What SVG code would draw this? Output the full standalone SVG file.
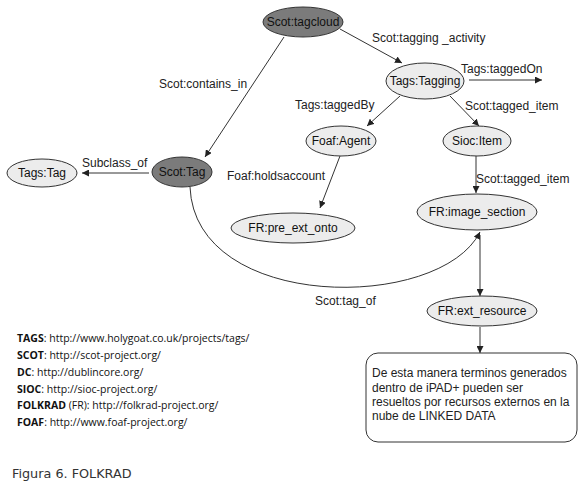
<svg xmlns="http://www.w3.org/2000/svg" width="579" height="487" viewBox="0 0 579 487">
<style>
  .lbl { font-family: "Liberation Sans", Arial, sans-serif; font-size: 12px; fill: #222; }
  .nt { font-family: "Liberation Sans", Arial, sans-serif; font-size: 12px; fill: #111; text-anchor: middle; }
  .dark { fill: #7b7b7b; stroke: #333; stroke-width: 1; }
  .light { fill: #ececec; stroke: #333; stroke-width: 1; }
  .edge { fill: none; stroke: #333; stroke-width: 1; }
  .leg { font-family: "Open Sans", "Liberation Sans", sans-serif; font-size: 10.5px; fill: #111; }
  .bold { font-weight: bold; }
</style>
<defs>
  <marker id="ah" viewBox="0 0 10 10" refX="10" refY="5" markerWidth="7" markerHeight="7" markerUnits="userSpaceOnUse" orient="auto">
    <path d="M0,0 L10,5 L0,10 z" fill="#222"/>
  </marker>
</defs>
<rect width="579" height="487" fill="#fff"/>

<g id="connectors">
  <line class="edge" x1="340" y1="29" x2="402" y2="63" marker-end="url(#ah)"/>
  <line class="edge" x1="284" y1="37" x2="205" y2="157" marker-end="url(#ah)"/>
  <line class="edge" x1="149" y1="173" x2="82" y2="173" marker-end="url(#ah)"/>
  <line class="edge" x1="469" y1="80" x2="542" y2="80" marker-end="url(#ah)"/>
  <line class="edge" x1="400" y1="96" x2="367" y2="126" marker-end="url(#ah)"/>
  <line class="edge" x1="450" y1="96" x2="479" y2="126" marker-end="url(#ah)"/>
  <line class="edge" x1="340" y1="156" x2="320" y2="208" marker-end="url(#ah)"/>
  <line class="edge" x1="476" y1="156" x2="476" y2="193" marker-end="url(#ah)"/>
  <line class="edge" x1="480" y1="235" x2="480" y2="296" marker-end="url(#ah)"/>
  <path class="edge" d="M190,187 C195,312 440,312 480,232" marker-end="url(#ah)"/>
  <line class="edge" x1="480" y1="327" x2="480" y2="353" marker-end="url(#ah)"/>
  <text class="lbl" x="372" y="42">Scot:tagging _activity</text>
  <text class="lbl" x="159" y="88">Scot:contains_in</text>
  <text class="lbl" x="461" y="73">Tags:taggedOn</text>
  <text class="lbl" x="295" y="109">Tags:taggedBy</text>
  <text class="lbl" x="465" y="110">Scot:tagged_item</text>
  <text class="lbl" x="476" y="183">Scot:tagged_item</text>
  <text class="lbl" x="82" y="167">Subclass_of</text>
  <text class="lbl" x="227" y="180">Foaf:holdsaccount</text>
  <text class="lbl" x="315" y="305">Scot:tag_of</text>
</g>

<g id="scot-tagcloud">
  <ellipse class="dark" cx="303" cy="22" rx="40" ry="15"/>
  <text class="nt" x="303" y="26">Scot:tagcloud</text>
</g>
<g id="tags-tagging">
  <ellipse class="light" cx="425" cy="81" rx="39" ry="18"/>
  <text class="nt" x="425" y="85">Tags:Tagging</text>
</g>
<g id="foaf-agent">
  <ellipse class="light" cx="341" cy="141" rx="35" ry="15"/>
  <text class="nt" x="341" y="145">Foaf:Agent</text>
</g>
<g id="sioc-item">
  <ellipse class="light" cx="477" cy="141" rx="34" ry="15"/>
  <text class="nt" x="477" y="145">Sioc:Item</text>
</g>
<g id="fr-image-section">
  <ellipse class="light" cx="477" cy="212" rx="60" ry="18"/>
  <text class="nt" x="477" y="216">FR:image_section</text>
</g>
<g id="fr-pre-ext-onto">
  <ellipse class="light" cx="293" cy="228" rx="62" ry="15"/>
  <text class="nt" x="293" y="232">FR:pre_ext_onto</text>
</g>
<g id="scot-tag">
  <ellipse class="dark" cx="182" cy="172" rx="30" ry="15"/>
  <text class="nt" x="182" y="176">Scot:Tag</text>
</g>
<g id="tags-tag">
  <ellipse class="light" cx="42" cy="173" rx="35" ry="14"/>
  <text class="nt" x="42" y="177">Tags:Tag</text>
</g>
<g id="fr-ext-resource">
  <ellipse class="light" cx="482" cy="311" rx="55" ry="15"/>
  <text class="nt" x="482" y="315">FR:ext_resource</text>
</g>
<g id="note">
  <rect x="366" y="353" width="211" height="89" rx="12" ry="12" fill="#fff" stroke="#333" stroke-width="1"/>
  <text class="lbl" x="372" y="377">De esta manera terminos generados</text>
  <text class="lbl" x="372" y="392">dentro de iPAD+ pueden ser</text>
  <text class="lbl" x="372" y="406">resueltos por recursos externos en la</text>
  <text class="lbl" x="372" y="420">nube de LINKED DATA</text>
</g>

<g id="legend">
  <text class="leg" x="17" y="342"><tspan class="bold">TAGS</tspan>: http://www.holygoat.co.uk/projects/tags/</text>
  <text class="leg" x="17" y="359"><tspan class="bold">SCOT</tspan>: http://scot-project.org/</text>
  <text class="leg" x="17" y="376"><tspan class="bold">DC</tspan>: http://dublincore.org/</text>
  <text class="leg" x="17" y="393"><tspan class="bold">SIOC</tspan>: http://sioc-project.org/</text>
  <text class="leg" x="17" y="409"><tspan class="bold">FOLKRAD</tspan> (FR): http://folkrad-project.org/</text>
  <text class="leg" x="17" y="426"><tspan class="bold">FOAF</tspan>: http://www.foaf-project.org/</text>
</g>
<text x="12" y="478" font-family="DejaVu Sans, Verdana, sans-serif" font-size="12.8" fill="#333">Figura 6. FOLKRAD</text>
</svg>
